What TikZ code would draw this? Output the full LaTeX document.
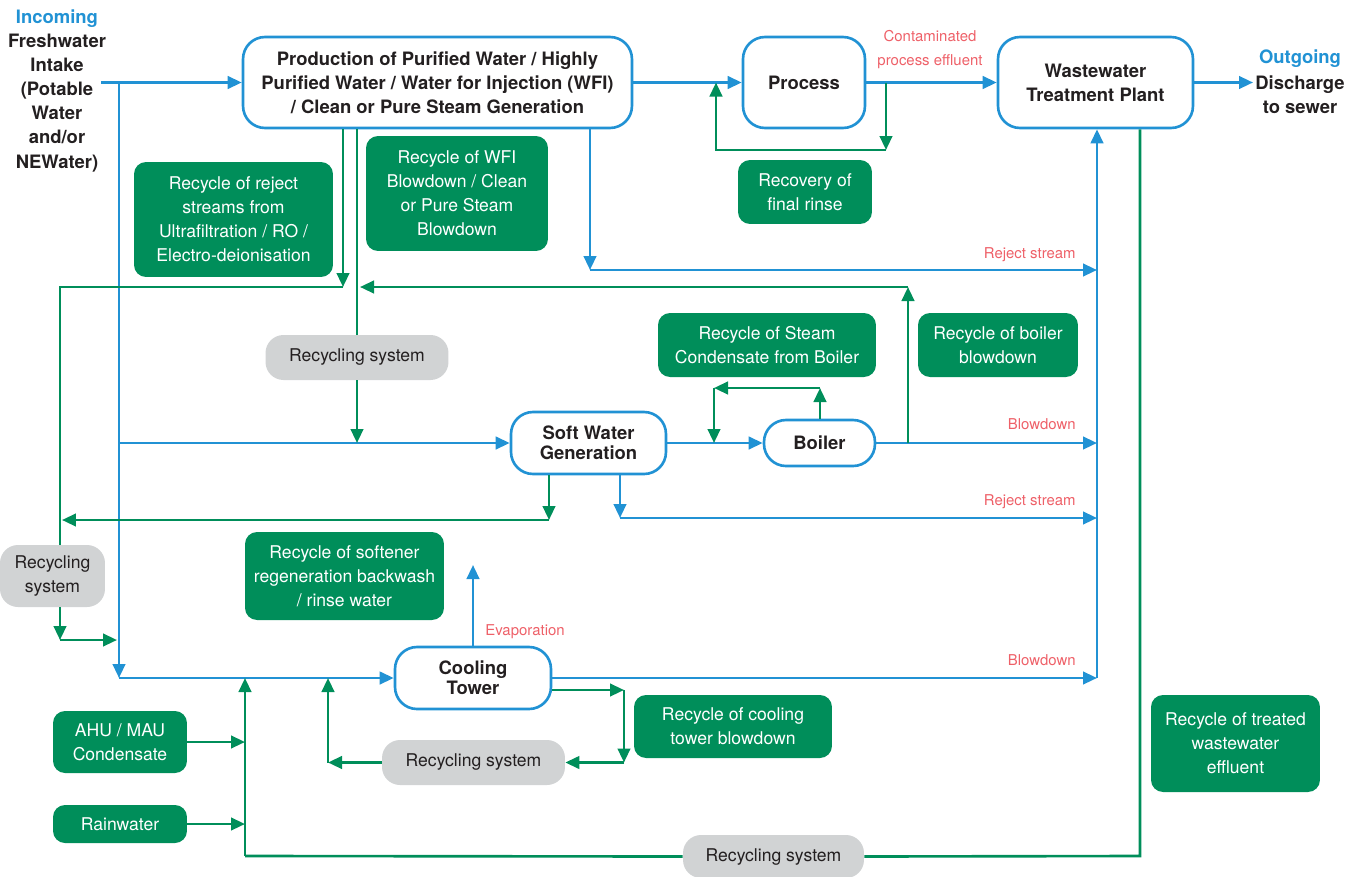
\documentclass[tikz,border=0pt]{standalone}
\usepackage{fontspec}
\setmainfont{TeX Gyre Heros}
\usepackage{tikz}
\usetikzlibrary{arrows.meta}

\definecolor{flowblue}{RGB}{33,146,212}
\definecolor{recgreen}{RGB}{0,142,90}
\definecolor{sysgray}{RGB}{209,211,212}
\definecolor{lblred}{RGB}{238,96,104}
\definecolor{txtdark}{RGB}{35,31,32}

\begin{document}
\begin{tikzpicture}[x=0.02cm, y=-0.02cm,
    >={Triangle[length=0.28cm,width=0.25cm]},
    unit/.style={draw=flowblue, line width=1.5pt, fill=white, rounded corners=0.44cm, align=center,
      text=txtdark, font=\fontsize{10.5}{13.7}\selectfont\bfseries, inner sep=0pt},
    rec/.style={fill=recgreen, rounded corners=0.24cm, align=center, text=white,
      font=\fontsize{10}{13.7}\selectfont, inner sep=0pt},
    sys/.style={fill=sysgray, rounded corners=0.36cm, align=center, text=txtdark,
      font=\fontsize{10}{13.7}\selectfont, inner sep=0pt},
    flow/.style={draw=flowblue, line width=1.5pt},
    back/.style={draw=recgreen, line width=1.5pt},
    lbl/.style={text=lblred, font=\fontsize{8.5}{13.7}\selectfont, inner sep=0pt},
    head/.style={align=center, text=txtdark, font=\fontsize{10.5}{13.7}\selectfont\bfseries, inner sep=0pt}]
  \useasboundingbox (0,0) rectangle (1359,876);

  % main units
  \node[unit, minimum width=7.78cm, minimum height=1.82cm] (prod) at (437.5,82.5)
    {Production of Purified Water / Highly\\Purified Water / Water for Injection (WFI)\\/ Clean or Pure Steam Generation};
  \node[unit, minimum width=2.44cm, minimum height=1.82cm] (proc) at (804,82.5) {Process};
  \node[unit, minimum width=3.9cm, minimum height=1.82cm] (wtp) at (1095.5,82.5) {Wastewater\\Treatment Plant};
  \node[unit, minimum width=3.1cm, minimum height=1.24cm, font=\fontsize{10.5}{11.4}\selectfont\bfseries] (soft) at (588.5,443) {Soft Water\\Generation};
  \node[unit, minimum width=2.22cm, minimum height=0.92cm] (boil) at (819.5,443) {Boiler};
  \node[unit, minimum width=3.12cm, minimum height=1.24cm, font=\fontsize{10.5}{11.4}\selectfont\bfseries] (cool) at (473,678) {Cooling\\Tower};

  % in / out
  \node[head, text=flowblue] (inc) at (57,19) {Incoming};
  \node[head] (fresh) at (57,103) {Freshwater\\Intake\\(Potable\\Water\\and/or\\NEWater)};
  \node[head, text=flowblue] (outg) at (1300,59) {Outgoing};
  \node[head] (dis) at (1300,95) {Discharge\\to sewer};

  % recycle boxes
  \node[rec, minimum width=3.98cm, minimum height=2.3cm] (rrej) at (233.5,219.5)
    {Recycle of reject\\streams from\\Ultrafiltration / RO /\\Electro-deionisation};
  \node[rec, minimum width=3.64cm, minimum height=2.3cm] (rwfi) at (457,193.5)
    {Recycle of WFI\\Blowdown / Clean\\or Pure Steam\\Blowdown};
  \node[rec, minimum width=2.68cm, minimum height=1.28cm] (rrin) at (805,192) {Recovery of\\final rinse};
  \node[rec, minimum width=4.36cm, minimum height=1.28cm] (rstm) at (767,345) {Recycle of Steam\\Condensate from Boiler};
  \node[rec, minimum width=3.2cm, minimum height=1.28cm] (rbbd) at (998,345) {Recycle of boiler\\blowdown};
  \node[rec, minimum width=3.98cm, minimum height=1.76cm] (rsof) at (344.5,576)
    {Recycle of softener\\regeneration backwash\\/ rinse water};
  \node[rec, minimum width=2.68cm, minimum height=1.24cm] (ahu) at (120,742) {AHU / MAU\\Condensate};
  \node[rec, minimum width=2.68cm, minimum height=0.76cm] (rain) at (120,824) {Rainwater};
  \node[rec, minimum width=3.96cm, minimum height=1.26cm] (rctb) at (733,726.5) {Recycle of cooling\\tower blowdown};
  \node[rec, minimum width=3.38cm, minimum height=1.94cm] (rtww) at (1235.5,743.5) {Recycle of treated\\wastewater\\effluent};

  % recycling systems
  \node[sys, minimum width=3.66cm, minimum height=0.9cm] (rs1) at (357,357.5) {Recycling system};
  \node[sys, minimum width=2.1cm, minimum height=1.24cm] (rs2) at (52.5,576) {Recycling\\system};
  \node[sys, minimum width=3.66cm, minimum height=0.9cm] (rs3) at (473.5,762.5) {Recycling system};
  \node[sys, minimum width=3.62cm, minimum height=0.86cm] (rs4) at (773.5,856.5) {Recycling system};

  % junctions
  \coordinate (fin) at (101,82.5);
  \coordinate (jtop) at (119,82.5);
  \coordinate (jsoft) at (119,443);
  \coordinate (jcool) at (119,678);
  \coordinate (dout) at (1253,82.5);
  \coordinate (rj1) at (590,270);
  \coordinate (rj2) at (620,518);
  \coordinate (wx) at (1097,0);
  \coordinate (fr1) at (886,150);
  \coordinate (fr2) at (716,150);
  \coordinate (rr1) at (343,287);
  \coordinate (rl1) at (60,287);
  \coordinate (rl2) at (60,640);
  \coordinate (rl3) at (117,640);
  \coordinate (bb1) at (908,287);
  \coordinate (bb2) at (360,287);
  \coordinate (sg1) at (549,520);
  \coordinate (sg2) at (62,520);
  \coordinate (bc1) at (820,388);
  \coordinate (bc2) at (714,388);
  \coordinate (ctb) at (624,690);
  \coordinate (ct2) at (328,762.5);
  \coordinate (tw1) at (1140,856);
  \coordinate (tw2) at (245,856);
  \coordinate (tw3) at (245,678);
  \coordinate (ev) at (473,565);

  % blue flows
  \draw[flow, ->] (fin) -- (prod.west);
  \draw[flow, ->] (jtop) -- (jcool);
  \draw[flow, ->] (jcool) -- (cool.west);
  \draw[flow, ->] (jsoft) -- (soft.west);
  \draw[flow, ->] (prod.east) -- (proc.west);
  \draw[flow, ->] (proc.east) -- (wtp.west);
  \draw[flow, ->] (wtp.east) -- (dout);
  \draw[flow, ->] (soft.east) -- (boil.west);
  \draw[flow, ->] (boil.east) -- (wx |- boil.east);
  \draw[flow, ->] (prod.south -| rj1) -- (rj1);
  \draw[flow, ->] (rj1) -- (wx |- rj1);
  \draw[flow, ->] (soft.south -| rj2) -- (rj2);
  \draw[flow, ->] (rj2) -- (wx |- rj2);
  \draw[flow, ->] (cool.east) -- (wx |- cool.east);
  \draw[flow, ->] (wx |- cool.east) -- (wx |- wtp.south);
  \draw[flow, ->] (cool.north) -- (ev);

  % green flows
  \draw[back, ->] (fr1 |- proc.east) -- (fr1);
  \draw[back, ->] (fr1) -- (fr2) -- (fr2 |- proc.west);
  \draw[back, ->] (prod.south -| rr1) -- (rr1);
  \draw[back] (rr1) -- (rl1) -- (rl1 |- rs2.north);
  \draw[back, ->] (rl1 |- rs2.south) -- (rl2);
  \draw[back, ->] (rl2) -- (rl3);
  \draw[back] (prod.south -| rs1) -- (rs1.north);
  \draw[back, ->] (rs1.south) -- (rs1 |- soft.west);
  \draw[back, ->] (bb1 |- boil.east) -- (bb1);
  \draw[back, ->] (bb1) -- (bb2);
  \draw[back, ->] (soft.south -| sg1) -- (sg1);
  \draw[back, ->] (sg1) -- (sg2);
  \draw[back, ->] (boil.north -| bc1) -- (bc1);
  \draw[back, ->] (bc1) -- (bc2);
  \draw[back, ->] (bc2) -- (bc2 |- boil.west);
  \draw[back, ->] (cool.east |- ctb) -- (ctb);
  \draw[back, ->] (ctb) -- (ctb |- rs3);
  \draw[back, ->] (ctb |- rs3) -- (rs3.east);
  \draw[back, ->] (rs3.west) -- (ct2);
  \draw[back, ->] (ct2) -- (ct2 |- cool.west);
  \draw[back] (tw1 |- wtp.south) -- (tw1) -- (rs4.east);
  \draw[back] (rs4.west) -- (tw2);
  \draw[back, ->] (tw2) -- (tw3);
  \draw[back, ->] (ahu.east) -- (tw2 |- ahu.east);
  \draw[back, ->] (rain.east) -- (tw2 |- rain.east);

  % flow labels
  \node[lbl, align=center] (lcon) at (930,50) {Contaminated\\process effluent};
  \node[lbl, anchor=east] (lrj1) at (1076,255) {Reject stream};
  \node[lbl, anchor=east] (lbd1) at (1076,424) {Blowdown};
  \node[lbl, anchor=east] (lrj2) at (1076,502) {Reject stream};
  \node[lbl, anchor=east] (lbd2) at (1076,660) {Blowdown};
  \node[lbl] (levp) at (525,632) {Evaporation};
\end{tikzpicture}
\end{document}
